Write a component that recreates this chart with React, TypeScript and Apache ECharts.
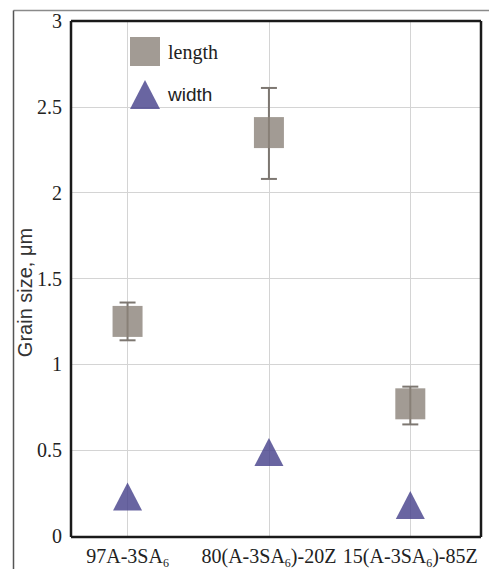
import React, { useEffect, useRef } from 'react';
import * as echarts from 'echarts';

const categories = ['97A-3SA₆', '80(A-3SA₆)-20Z', '15(A-3SA₆)-85Z'];
const categoryIndex = [0, 1, 2];
const lengthValues = [1.25, 2.35, 0.77];
const lengthErrLow = [1.14, 2.08, 0.65];
const lengthErrHigh = [1.36, 2.61, 0.87];
const widthValues = [0.23, 0.49, 0.18];
const xMin = -0.4;
const xMax = 2.5;
const yMin = 0;
const yMax = 3;
const yInterval = 0.5;

const toRich = (s: string) => {
  const parts = s.split('₆');
  return parts.map((p) => (p ? `{m|${p}}` : '')).join('{s|6}');
};

export default function App() {
  const ref = useRef<HTMLDivElement>(null);
  useEffect(() => {
    if (!ref.current) return;
    const chart = echarts.init(ref.current, undefined, { renderer: 'svg' });
    const errStyle = { stroke: '#7d7771', lineWidth: 2 };
    chart.setOption({
      animation: false,
      backgroundColor: '#ffffff',
      textStyle: { fontFamily: 'Liberation Serif' },
      grid: {
        left: 71,
        right: 8,
        top: 21,
        bottom: 32,
      },
      legend: {
        data: [
          { name: 'length' },
          { name: 'width', textStyle: { fontFamily: 'Liberation Sans', fontSize: 19, color: '#222' } },
        ],
        orient: 'vertical',
        left: 130,
        top: 37,
        padding: 0,
        itemWidth: 30,
        itemHeight: 29,
        itemGap: 14,
        textStyle: { fontFamily: 'Liberation Serif', fontSize: 20, color: '#222', padding: [0, 0, 0, 3] },
      },
      xAxis: {
        type: 'value',
        min: xMin,
        max: xMax,
        axisLine: { show: false },
        axisTick: { show: false, customValues: categoryIndex },
        splitLine: { show: true, lineStyle: { color: '#d4d4d4', width: 1 } },
        axisLabel: {
          customValues: categoryIndex,
          hideOverlap: false,
          margin: 7,
          formatter: (v: number) => toRich(categories[Math.round(v)] ?? ''),
          rich: {
            m: { fontFamily: 'Liberation Serif', fontSize: 20, color: '#222', lineHeight: 26, verticalAlign: 'bottom', padding: [0, 0, 3, 0] },
            s: { fontFamily: 'Liberation Serif', fontSize: 12, color: '#222', lineHeight: 26, verticalAlign: 'bottom' },
          },
        },
      },
      yAxis: {
        type: 'value',
        min: yMin,
        max: yMax,
        interval: yInterval,
        name: 'Grain size, μm',
        nameLocation: 'middle',
        nameGap: 36,
        nameMoveOverlap: false,
        nameRotate: 90,
        nameTextStyle: {
          fontFamily: 'Liberation Sans',
          fontSize: 20,
          color: '#333',
          padding: [0, 28, 0, 0],
        },
        axisLine: { show: false },
        axisTick: { show: false },
        splitLine: { show: true, lineStyle: { color: '#d4d4d4', width: 1 } },
        axisLabel: {
          fontFamily: 'Liberation Serif',
          fontSize: 20,
          color: '#222',
          margin: 9,
        },
      },
      graphic: [
        { type: 'line', shape: { x1: 13.5, y1: 10.5, x2: 489, y2: 10.5 }, style: { stroke: '#8a8a8a', lineWidth: 1.5 }, silent: true },
        { type: 'line', shape: { x1: 13.5, y1: 10.5, x2: 13.5, y2: 569 }, style: { stroke: '#555', lineWidth: 1.5 }, silent: true },
        { type: 'line', shape: { x1: 71, y1: 21, x2: 481, y2: 21 }, style: { stroke: '#1a1a1a', lineWidth: 2.5 }, silent: true, z: 100 },
        { type: 'line', shape: { x1: 481, y1: 21, x2: 481, y2: 537 }, style: { stroke: '#1a1a1a', lineWidth: 2.5 }, silent: true, z: 100 },
        { type: 'line', shape: { x1: 481, y1: 537, x2: 71, y2: 537 }, style: { stroke: '#1a1a1a', lineWidth: 2.5 }, silent: true, z: 100 },
        { type: 'line', shape: { x1: 71, y1: 537, x2: 71, y2: 21 }, style: { stroke: '#1a1a1a', lineWidth: 2.5 }, silent: true, z: 100 },
      ],
      series: [
        {
          type: 'custom',
          name: 'err',
          z: 2,
          data: categoryIndex.map((i) => [i, lengthErrLow[i], lengthErrHigh[i]]),
          encode: { x: 0, y: [1, 2] },
          renderItem: (params: any, api: any) => {
            const x = api.value(0);
            const lo = api.coord([x, api.value(1)]);
            const hi = api.coord([x, api.value(2)]);
            const cap = 8;
            return {
              type: 'group',
              children: [
                { type: 'line', shape: { x1: lo[0], y1: lo[1], x2: hi[0], y2: hi[1] }, style: errStyle },
                { type: 'line', shape: { x1: hi[0] - cap, y1: hi[1], x2: hi[0] + cap, y2: hi[1] }, style: errStyle },
                { type: 'line', shape: { x1: lo[0] - cap, y1: lo[1], x2: lo[0] + cap, y2: lo[1] }, style: errStyle },
              ],
            };
          },
        },
        {
          type: 'scatter',
          name: 'length',
          z: 3,
          symbol: 'rect',
          symbolSize: [30, 31],
          itemStyle: { color: '#8b8279' },
          data: categoryIndex.map((i) => [i, lengthValues[i]]),
        },
        {
          type: 'scatter',
          name: 'width',
          z: 3,
          symbol: 'triangle',
          symbolSize: [29, 28],
          itemStyle: { color: '#443e8a' },
          data: categoryIndex.map((i) => [i, widthValues[i]]),
        },
      ],
    });
    return () => chart.dispose();
  }, []);
  return (
    <div
      ref={ref}
      style={{ position: 'fixed', left: 0, top: 0, width: 489, height: 569, background: '#fff' }}
    />
  );
}
